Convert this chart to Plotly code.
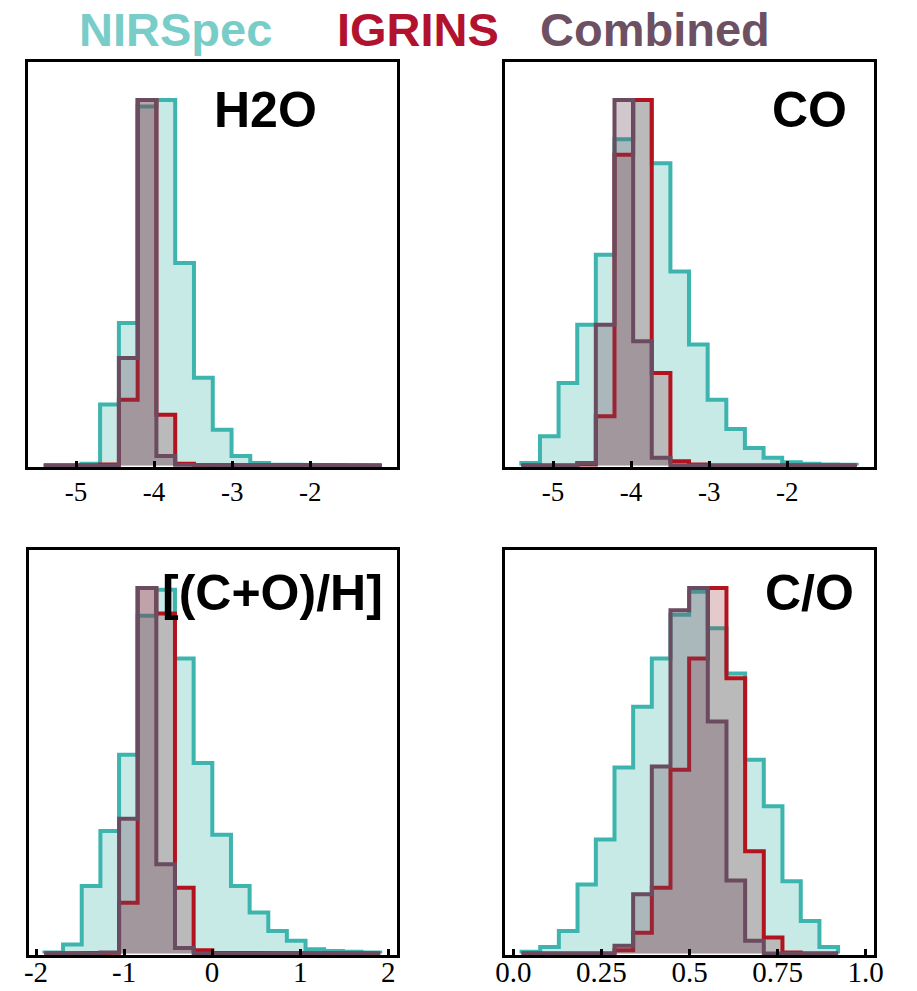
import plotly.graph_objects as go

W, H = 917, 991

# ---------------- data (normalised histogram heights, peak = 1) ----------------
h2o_edges = [-5.413, -5.173, -4.932, -4.692, -4.451, -4.211, -3.971, -3.730, -3.490, -3.249,
             -3.009, -2.769, -2.528, -2.288, -2.047, -1.807, -1.567, -1.326, -1.086]
h2o_nirspec = [0, 0, 0.005, 0.167, 0.39, 0.982, 1.0, 0.554, 0.24, 0.098, 0.026, 0.007, 0.003, 0.002, 0.001, 0.001, 0, 0]
h2o_igrins = [0, 0, 0, 0.003, 0.18, 1.0, 0.139, 0.005, 0.001, 0, 0, 0, 0, 0, 0, 0, 0, 0]
h2o_combined = [0, 0, 0, 0, 0.294, 1.0, 0.026, 0.002, 0, 0, 0, 0, 0, 0, 0, 0, 0, 0]

co_edges = [-5.406, -5.167, -4.929, -4.690, -4.452, -4.213, -3.974, -3.736, -3.497, -3.259,
            -3.020, -2.781, -2.543, -2.304, -2.066, -1.827, -1.588, -1.350, -1.111]
co_nirspec = [0.007, 0.08, 0.226, 0.385, 0.577, 0.893, 1.0, 0.827, 0.531, 0.331, 0.18, 0.1, 0.048, 0.021, 0.009, 0.005, 0.003, 0.002]
co_igrins = [0, 0, 0, 0.003, 0.135, 0.85, 1.0, 0.253, 0.012, 0.003, 0, 0, 0, 0, 0, 0, 0, 0]
co_combined = [0, 0, 0, 0.007, 0.385, 1.0, 0.34, 0.021, 0, 0, 0, 0, 0, 0, 0, 0, 0, 0]

met_edges = [-1.905, -1.693, -1.481, -1.269, -1.057, -0.846, -0.634, -0.422, -0.210, 0.002,
             0.214, 0.426, 0.638, 0.849, 1.061, 1.273, 1.485, 1.697, 1.909]
met_nirspec = [0.003, 0.025, 0.185, 0.335, 0.544, 0.924, 0.995, 0.807, 0.521, 0.325, 0.185, 0.112, 0.062, 0.035, 0.012, 0.007, 0.005, 0.003]
met_igrins = [0, 0, 0, 0.002, 0.139, 1.0, 0.93, 0.18, 0.009, 0.002, 0, 0, 0, 0, 0, 0, 0, 0]
met_combined = [0, 0, 0, 0.003, 0.369, 1.0, 0.244, 0.015, 0, 0, 0, 0, 0, 0, 0, 0, 0, 0]

cto_edges = [0.023, 0.076, 0.129, 0.182, 0.234, 0.287, 0.340, 0.393, 0.446, 0.499,
             0.552, 0.605, 0.658, 0.711, 0.764, 0.816, 0.869, 0.922]
cto_nirspec = [0.005, 0.018, 0.062, 0.189, 0.312, 0.509, 0.675, 0.807, 0.927, 0.99, 0.89, 0.766, 0.53, 0.403, 0.198, 0.089, 0.018]
cto_igrins = [0, 0, 0, 0, 0, 0.009, 0.057, 0.18, 0.503, 0.807, 1.0, 0.753, 0.28, 0.044, 0.003, 0, 0]
cto_combined = [0, 0, 0, 0, 0, 0.021, 0.162, 0.512, 0.939, 1.0, 0.635, 0.2, 0.035, 0, 0, 0, 0]

panel_labels = ["H2O", "CO", "[(C+O)/H]", "C/O"]
series_names = ["NIRSpec", "IGRINS", "Combined"]

top_ticks = [-5, -4, -3, -2]
top_ticktext = ["-5", "-4", "-3", "-2"]
met_ticks = [-2, -1, 0, 1, 2]
met_ticktext = ["-2", "-1", "0", "1", "2"]
cto_ticks = [0.0, 0.25, 0.5, 0.75, 1.0]
cto_ticktext = ["0.0", "0.25", "0.5", "0.75", "1.0"]

# ---------------- styles ----------------
line_cols = ["#3db5ae", "#b3131f", "#6b4b5f"]
fill_cols = ["rgba(61,181,174,0.29)", "rgba(150,42,51,0.25)", "rgba(107,75,95,0.31)"]
label_cols = ["#78cdc8", "#b2122d", "#6d5163"]

panels = [
    (h2o_edges, [h2o_nirspec, h2o_igrins, h2o_combined]),
    (co_edges, [co_nirspec, co_igrins, co_combined]),
    (met_edges, [met_nirspec, met_igrins, met_combined]),
    (cto_edges, [cto_nirspec, cto_igrins, cto_combined]),
]

# pixel boxes of each panel (left, right, top, bottom)
boxes = [(28, 397, 62, 467), (505, 874, 62, 467), (29, 397, 550, 955), (505, 874, 550, 955)]
xranges = [[-5.615, -0.89], [-5.615, -0.89], [-2.08, 2.1], [-0.024, 1.024]]
ticksets = [(top_ticks, top_ticktext), (top_ticks, top_ticktext),
            (met_ticks, met_ticktext), (cto_ticks, cto_ticktext)]
tick_sizes = [27, 27, 29, 29]
tick_standoff = [-1, -1, -11, -11]


def step_xy(edges, heights):
    xs, ys = [edges[0]], [0]
    for i, h in enumerate(heights):
        xs += [edges[i], edges[i + 1]]
        ys += [h, h]
    xs.append(edges[len(heights)])
    ys.append(0)
    return xs, ys


fig = go.Figure()
layout = {}
for p, (edges, series) in enumerate(panels):
    sfx = "" if p == 0 else str(p + 1)
    for s, heights in enumerate(series):
        xs, ys = step_xy(edges, heights)
        fig.add_trace(go.Scatter(
            x=xs, y=ys, mode="lines", fill="tozeroy",
            fillcolor=fill_cols[s], line=dict(color=line_cols[s], width=4),
            xaxis="x" + sfx, yaxis="y" + sfx, showlegend=False, name=series_names[s],
            hoverinfo="skip"))
    l, r, t, b = boxes[p]
    tv, tt = ticksets[p]
    layout["xaxis" + sfx] = dict(
        domain=[l / W, r / W], range=xranges[p], anchor="y" + sfx, automargin=False,
        showline=True, linecolor="black", linewidth=3, mirror=True,
        ticks="inside", ticklen=6, tickwidth=3, tickcolor="black",
        tickvals=tv, ticktext=tt, showgrid=False, zeroline=False,
        ticklabelstandoff=tick_standoff[p],
        tickfont=dict(family="Liberation Serif", size=tick_sizes[p], color="black"))
    layout["yaxis" + sfx] = dict(
        domain=[1 - b / H, 1 - t / H], range=[-0.004, 1.104], anchor="x" + sfx,
        automargin=False,
        showline=True, linecolor="black", linewidth=3, mirror=True,
        showticklabels=False, ticks="", showgrid=False, zeroline=False)

annotations = []
label_pos = [(265, 110), (809, 110), (272, 593), (809, 593)]
for (px, py), txt in zip(label_pos, panel_labels):
    annotations.append(dict(x=px / W, y=1 - py / H, xref="paper", yref="paper",
                            text="<b>%s</b>" % txt, showarrow=False,
                            xanchor="center", yanchor="middle",
                            font=dict(family="Liberation Sans", size=50, color="black")))
legend_pos = [(175, 29), (418, 29), (655, 29)]
for (px, py), txt, col in zip(legend_pos, series_names, label_cols):
    annotations.append(dict(x=px / W, y=1 - py / H, xref="paper", yref="paper",
                            text="<b>%s</b>" % txt, showarrow=False,
                            xanchor="center", yanchor="middle",
                            font=dict(family="Liberation Sans", size=47, color=col)))

fig.update_layout(width=W, height=H, margin=dict(l=0, r=0, t=0, b=0),
                  paper_bgcolor="white", plot_bgcolor="white",
                  annotations=annotations, **layout)
fig.write_html("out.html")
